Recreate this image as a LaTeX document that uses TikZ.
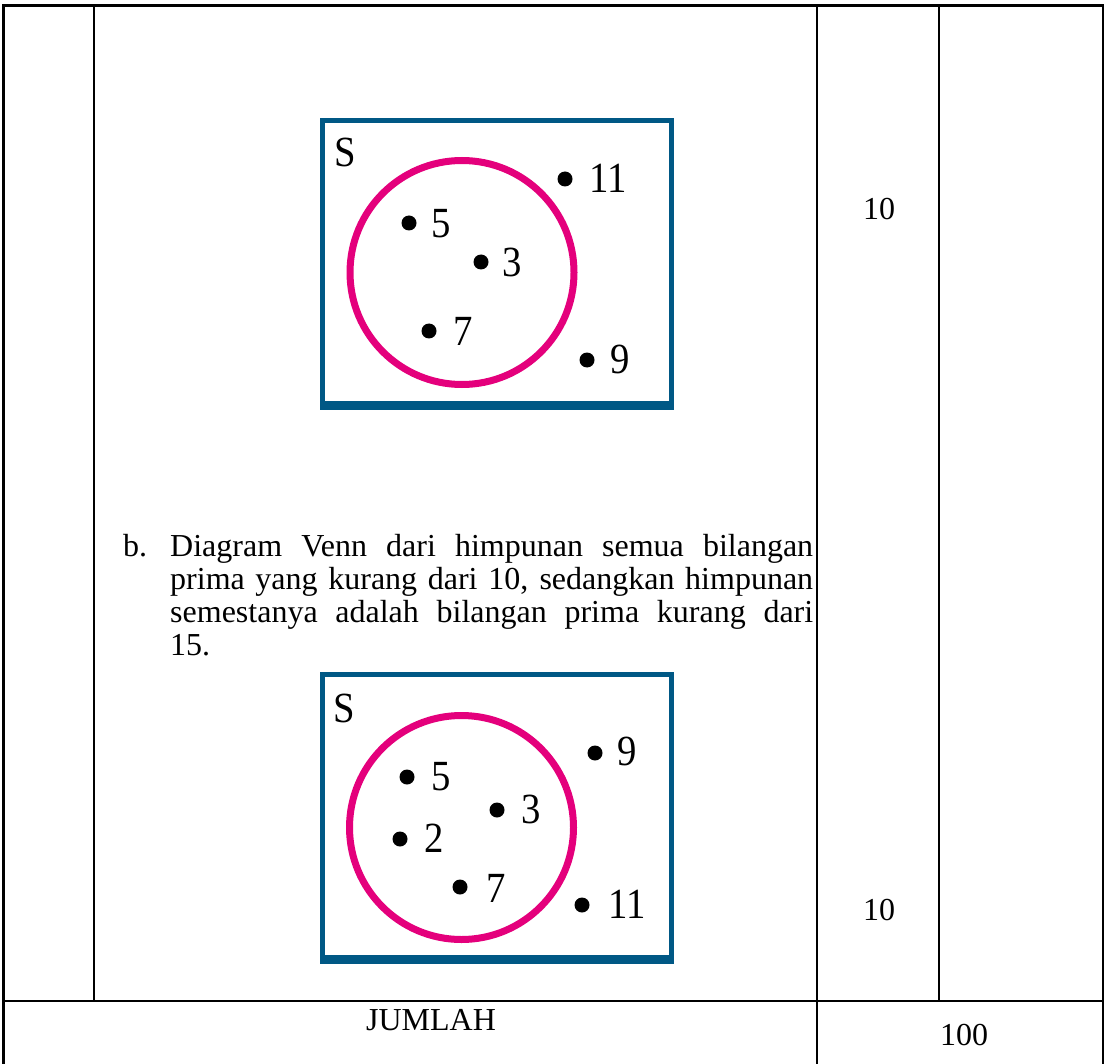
\documentclass[tikz,border=0pt]{standalone}
\usepackage{fontspec}
\setmainfont{Liberation Serif}
\newfontfamily\vennfont[FakeStretch=0.9]{Liberation Serif}
\definecolor{vennblue}{RGB}{0,88,133}
\definecolor{vennpink}{RGB}{228,0,124}
\begin{document}
\begin{tikzpicture}[x=1pt,y=-1pt,
  rule/.style={line width=2.6pt, draw=black, line cap=rect},
  bodytext/.style={font=\fontsize{32}{33}\selectfont, inner sep=0pt},
  vlabel/.style={font=\vennfont\fontsize{43}{43}\selectfont, inner sep=0pt, anchor=base},
  vdot/.style={circle, fill=black, inner sep=0pt, minimum size=15pt},
  vset/.style={draw=vennpink, line width=7pt},
]
\useasboundingbox[fill=white] (0,0) rectangle (1105,1064);

% table rules
\draw[rule] (3.7,5.5) -- (1103,5.5);
\draw[rule] (3.7,5.5) -- (3.7,1066);
\draw[rule] (94,5.5) -- (94,1001);
\draw[rule] (817,5.5) -- (817,1066);
\draw[rule] (939,5.5) -- (939,1001);
\draw[rule] (1103,5.5) -- (1103,1066);
\draw[rule] (3.7,1001) -- (1103,1001);

% ---------- Venn diagram 1 ----------
\fill[vennblue] (320,118) rectangle (674,410);
\fill[white] (325,123) rectangle (669,401);
\draw[vset] (462,272.5) circle[radius=112pt];
\node[vlabel] (s1) at (345,167) {S};
\node[vdot] (d1a) at (409,223) {};
\node[vlabel] (l1a) at (441,238) {5};
\node[vdot] (d1b) at (481,262) {};
\node[vlabel] (l1b) at (512,277) {3};
\node[vdot] (d1c) at (429,331) {};
\node[vlabel] (l1c) at (463,345) {7};
\node[vdot] (d1d) at (565,179) {};
\node[vlabel] (l1d) at (608,193) {11};
\node[vdot] (d1e) at (587,360) {};
\node[vlabel] (l1e) at (620,373) {9};

% ---------- text b ----------
\node[bodytext, anchor=base west] (bl) at (123,556) {b.};
\node[bodytext, anchor=base west, text width=643pt, align=justify] (bt) at (170,556)
  {Diagram Venn dari himpunan semua bilangan\linebreak
   prima yang kurang dari 10, sedangkan himpunan\linebreak
   semestanya adalah bilangan prima kurang dari\linebreak
   15.};

% ---------- Venn diagram 2 ----------
\fill[vennblue] (320,672) rectangle (674,964);
\fill[white] (325,677) rectangle (669,955);
\draw[vset] (461.5,827.5) circle[radius=112pt];
\node[vlabel] (s2) at (344,722) {S};
\node[vdot] (d2a) at (595,753) {};
\node[vlabel] (l2a) at (627,765) {9};
\node[vdot] (d2b) at (407,777) {};
\node[vlabel] (l2b) at (441,790) {5};
\node[vdot] (d2c) at (497,810) {};
\node[vlabel] (l2c) at (531,823) {3};
\node[vdot] (d2d) at (400,839) {};
\node[vlabel] (l2d) at (434,852) {2};
\node[vdot] (d2e) at (460,887) {};
\node[vlabel] (l2e) at (496,902) {7};
\node[vdot] (d2f) at (582,905) {};
\node[vlabel] (l2f) at (627,918) {11};

% ---------- scores ----------
\node[bodytext, anchor=base] (sc1) at (879,220) {10};
\node[bodytext, anchor=base] (sc2) at (879,920) {10};
\node[bodytext, anchor=base] (jm) at (431,1030) {JUMLAH};
\node[bodytext, anchor=base] (tot) at (964,1045) {100};
\end{tikzpicture}
\end{document}
